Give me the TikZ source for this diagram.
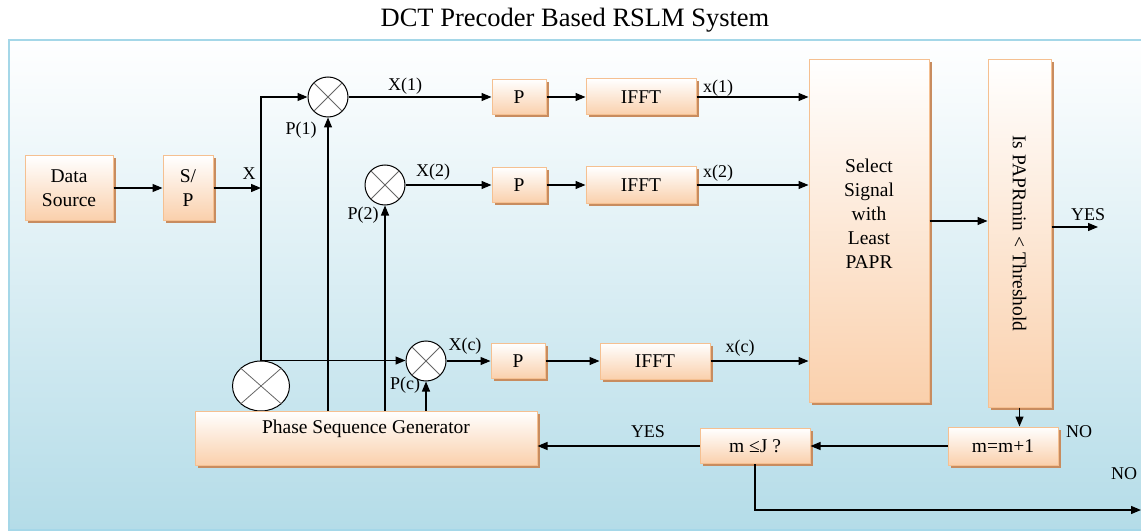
\documentclass[tikz,border=0pt]{standalone}
\usepackage{fontspec}
\setmainfont{Liberation Serif}
\usetikzlibrary{shapes.geometric, arrows.meta, positioning, shadows}

\definecolor{boxpeach}{RGB}{250,208,172}
\definecolor{boxedge}{RGB}{245,192,145}
\definecolor{shadowbrown}{RGB}{200,140,95}
\definecolor{bgblue}{RGB}{180,220,232}
\definecolor{frameblue}{RGB}{165,215,232}

\tikzset{
  block/.style={draw=boxedge, line width=1pt, top color=white, bottom color=boxpeach,
    drop shadow={shadow xshift=2.5pt, shadow yshift=-2.5pt, fill=shadowbrown, opacity=1},
    font=\fontsize{19.5}{24}\selectfont, inner sep=2pt, align=center},
  mult/.style={draw, circle, fill=white, line width=1pt, minimum size=40pt, inner sep=0pt},
  txt/.style={font=\fontsize{19.5}{24}\selectfont, align=center, inner sep=1pt},
  lbl/.style={font=\fontsize{18}{20}\selectfont, inner sep=1pt},
  sig/.style={line width=1.2pt, -{Triangle[length=10pt,width=8pt]}},
}

\begin{document}
\begin{tikzpicture}[x=1pt, y=-1pt]
  \useasboundingbox (0,0) rectangle (1141,532);

  % frame with shaded background
  \draw[frameblue, line width=1.5pt, top color=white, bottom color=bgblue] (9,40) rectangle (1160,530);
  \node[font=\fontsize{26.5}{30}\selectfont] (title) at (575,20) {DCT Precoder Based RSLM System};

  % input side
  \node[block, minimum width=88pt, minimum height=64pt] (src) at (69,188) {Data\\Source};
  \node[block, minimum width=50pt, minimum height=64pt] (sp) at (188,188) {S/\\P};
  \coordinate (split) at (261,188);

  % multipliers
  \node[mult] (m1) at (328,97) {};
  \node[mult] (m2) at (385,185) {};
  \node[mult] (mc) at (426,361) {};
  \node[draw, ellipse, fill=white, line width=1pt, minimum width=57pt, minimum height=50pt, inner sep=0pt] (mbig) at (261,386) {};
  \foreach \m in {m1,m2,mc,mbig} {
    \draw[black!60, line width=0.8pt] (\m.north west) -- (\m.south east) (\m.north east) -- (\m.south west);
  }

  % branch blocks
  \node[block, minimum width=54pt, minimum height=35pt] (p1) at (519,97) {P};
  \node[block, minimum width=110pt, minimum height=36pt] (ifft1) at (641,97) {IFFT};
  \node[block, minimum width=54pt, minimum height=35pt] (p2) at (519,185) {P};
  \node[block, minimum width=110pt, minimum height=36pt] (ifft2) at (641,185) {IFFT};
  \node[block, minimum width=54pt, minimum height=35pt] (pc) at (518,361) {P};
  \node[block, minimum width=110pt, minimum height=36pt] (ifftc) at (655,361) {IFFT};

  % selection and decision
  \node[block, minimum width=120pt, minimum height=342pt] (sel) at (869,231) {};
  \node[txt] (seltext) at (869,214) {Select\\Signal\\with\\Least\\PAPR};
  \node[block, minimum width=63pt, minimum height=347pt] (thr) at (1019.5,233.5) {};
  \node[txt, rotate=-90] (thrtext) at (thr.center) {Is PAPRmin < Threshold};
  \node[block, minimum width=110pt, minimum height=38pt] (inc) at (1003,446) {m=m+1};
  \node[block, minimum width=110pt, minimum height=35pt] (chk) at (755,446) {m ≤J ?};
  \node[block, minimum width=342pt, minimum height=54pt] (psg) at (366,438) {};
  \node[txt] (psgtext) at (366,429) {Phase Sequence Generator};

  \coordinate (selout) at (931,221);
  \coordinate (yesend) at (1098,227);
  \coordinate (noend) at (1141,510);

  % connections
  \draw[sig] (src) -- (sp);
  \draw[sig] (sp.east) -- (split);
  \draw[sig] (mbig.north) |- (m1.west);
  \draw[sig] (mbig.north) -- (mbig.north -| mc.west);
  \draw[sig] (m1 |- psg.north) -- (m1.south);
  \draw[sig] (m2 |- psg.north) -- (m2.south);
  \draw[sig] (mc |- psg.north) -- (mc.south);
  \draw[sig] (m1.east) -- (p1.west);
  \draw[sig] (m2.east) -- (p2.west);
  \draw[sig] (mc.east) -- (pc.west);
  \draw[sig] (p1.east) -- (ifft1.west);
  \draw[sig] (p2.east) -- (ifft2.west);
  \draw[sig] (pc.east) -- (ifftc.west);
  \draw[sig] (ifft1.east) -- (ifft1.east -| sel.west);
  \draw[sig] (ifft2.east) -- (ifft2.east -| sel.west);
  \draw[sig] (ifftc.east) -- (ifftc.east -| sel.west);
  \draw[sig] (sel.east |- selout) -- (thr.west |- selout);
  \draw[sig] (thr.east |- yesend) -- (yesend);
  \draw[sig] (thr.south) -- (thr.south |- inc.north);
  \draw[sig] (inc.west) -- (chk.east);
  \draw[sig] (chk.west) -- (chk.west -| psg.east);
  \draw[sig] (chk.south) |- (noend);

  % signal labels
  \node[lbl] (lx) at (249,174) {X};
  \node[lbl] (lX1) at (405,86) {X(1)};
  \node[lbl] (lX2) at (433,172) {X(2)};
  \node[lbl] (lXc) at (465,346) {X(c)};
  \node[lbl] (lP1) at (301,130) {P(1)};
  \node[lbl] (lP2) at (363,215) {P(2)};
  \node[lbl] (lPc) at (405,385) {P(c)};
  \node[lbl] (lx1) at (718,88) {x(1)};
  \node[lbl] (lx2) at (718,173) {x(2)};
  \node[lbl] (lxc) at (740,348) {x(c)};
  \node[lbl] (lyes1) at (1088,215) {YES};
  \node[lbl] (lyes2) at (648,432) {YES};
  \node[lbl] (lno1) at (1079,432) {NO};
  \node[lbl] (lno2) at (1124,474) {NO};
\end{tikzpicture}
\end{document}
